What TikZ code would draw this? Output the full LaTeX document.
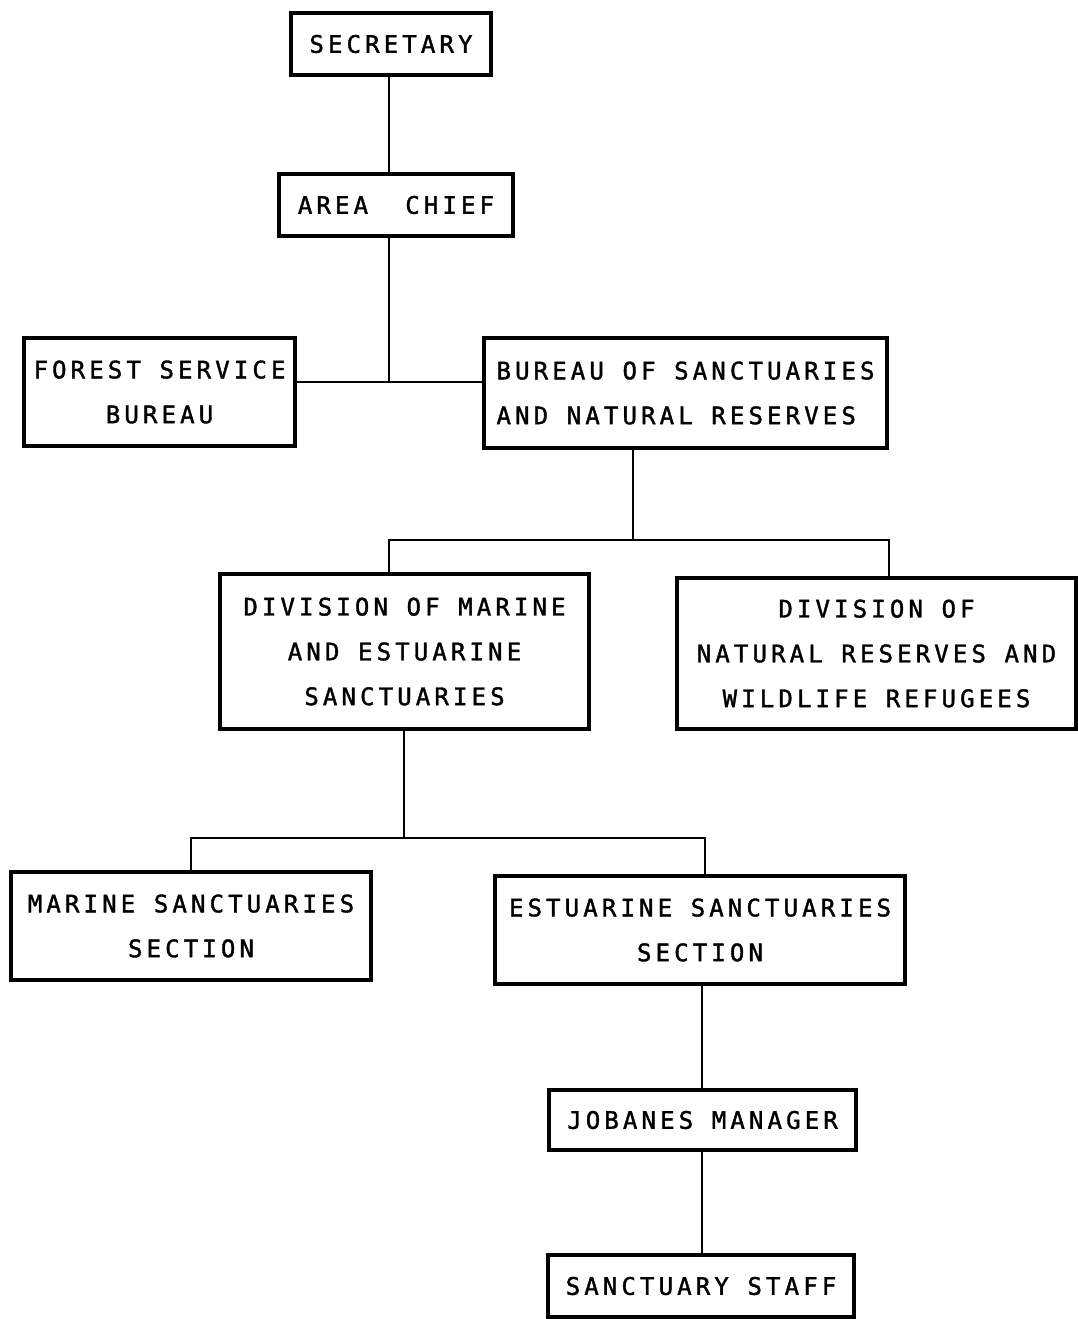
\documentclass[tikz,border=0pt]{standalone}
\usepackage{fontspec}
\newfontfamily\orgfont[LetterSpace=17, FakeBold=1.5]{DejaVu Sans Mono}
\usepackage{tikz}
\usetikzlibrary{calc}
\tikzset{orgbox/.style={draw, line width=2pt, align=center, inner sep=0pt,
    font=\orgfont\fontsize{13.7}{25.5}\selectfont},
  link/.style={line width=1.2pt}}

\begin{document}
\begin{tikzpicture}[x=0.02cm, y=-0.02cm]
  \useasboundingbox (0, 0) rectangle (1078, 1319);

  % top
  \node[orgbox, minimum width=4cm, minimum height=1.24cm] at (391, 44) (sec) {SECRETARY};
  \node[orgbox, minimum width=4.68cm, minimum height=1.24cm] at (396, 205) (chief) {AREA\ \ CHIEF};

  % bureaus
  \node[orgbox, minimum width=5.42cm, minimum height=2.16cm] at (159.5, 392) (forest) {FOREST SERVICE\\BUREAU};
  \node[orgbox, align=left, minimum width=8.06cm, minimum height=2.2cm] at (685.5, 393) (bureau) {BUREAU OF SANCTUARIES\\AND NATURAL RESERVES};

  % divisions
  \node[orgbox, minimum width=7.38cm, minimum height=3.1cm] at (404.5, 651.5) (divmar) {DIVISION OF MARINE\\AND ESTUARINE\\SANCTUARIES};
  \node[orgbox, minimum width=7.98cm, minimum height=3.02cm] at (876.5, 653.5) (divnat) {DIVISION OF\\NATURAL RESERVES AND\\WILDLIFE REFUGEES};

  % sections
  \node[orgbox, minimum width=7.2cm, minimum height=2.16cm] at (191, 926) (marsec) {MARINE SANCTUARIES\\SECTION};
  \node[orgbox, minimum width=8.2cm, minimum height=2.16cm] at (700, 930) (estsec) {ESTUARINE SANCTUARIES\\SECTION};

  % site
  \node[orgbox, minimum width=6.14cm, minimum height=1.2cm] at (702.5, 1120) (manager) {JOBANES MANAGER};
  \node[orgbox, minimum width=6.12cm, minimum height=1.24cm] at (701, 1286) (staff) {SANCTUARY STAFF};

  % junctions
  \coordinate (j1) at (389, 382);
  \coordinate (j2) at (633, 540);
  \coordinate (j2l) at (389, 540);
  \coordinate (j2r) at (889, 540);
  \coordinate (j3) at (404, 838);
  \coordinate (j3l) at (191, 838);
  \coordinate (j3r) at (705, 838);
  \coordinate (j4) at (702, 1000);

  \draw[link] (j1 |- sec.south) -- (j1 |- chief.north);
  \draw[link] (j1 |- chief.south) -- (j1);
  \draw[link] (forest.east |- j1) -- (bureau.west |- j1);

  \draw[line width=0.7pt] (j2 |- bureau.south) -- (j2);
  \draw[link] (j2l |- divmar.north) -- (j2l) -- (j2r) -- (j2r |- divnat.north);

  \draw[link] (j3 |- divmar.south) -- (j3);
  \draw[link] (j3l |- marsec.north) -- (j3l) -- (j3r) -- (j3r |- estsec.north);

  \draw[line width=0.7pt] (j4 |- estsec.south) -- (j4 |- manager.north);
  \draw[link] (j4 |- manager.south) -- (j4 |- staff.north);
\end{tikzpicture}
\end{document}
